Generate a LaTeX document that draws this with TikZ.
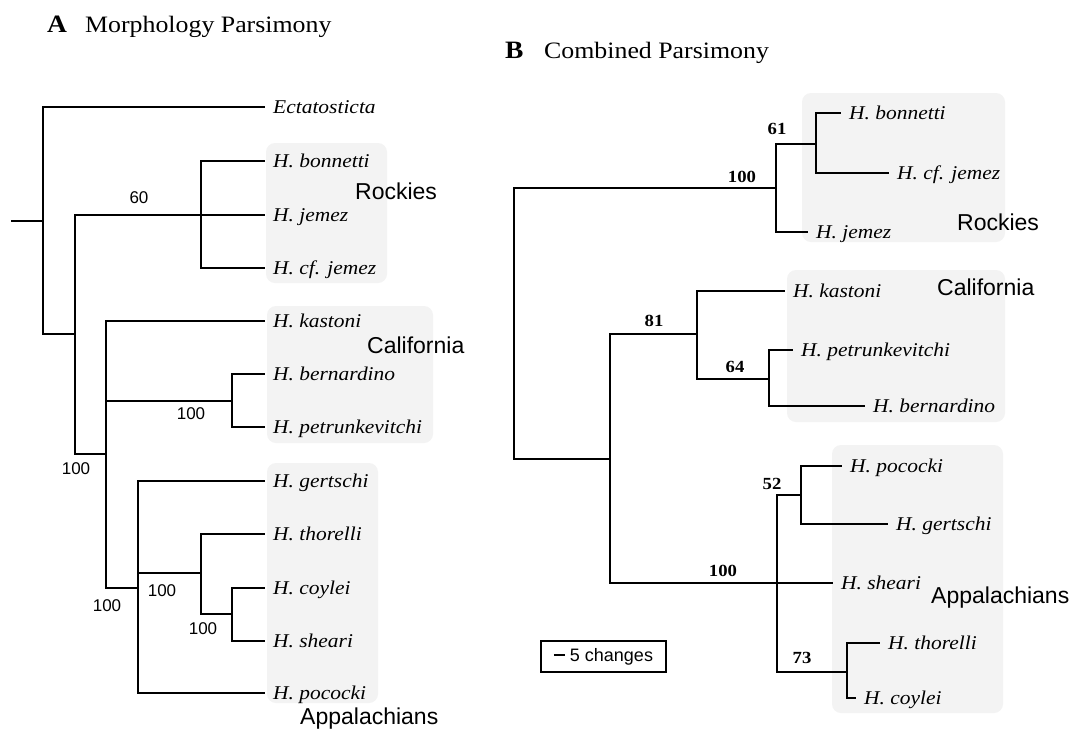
\documentclass[tikz,border=0pt]{standalone}
\usepackage{fontspec}
\newfontfamily\lsans{Liberation Sans}
\newfontfamily\serifw[FakeStretch=1.1]{Liberation Serif}
\definecolor{regionfill}{gray}{0.953}
\begin{document}
\begin{tikzpicture}[x=1pt,y=-1pt,
 branch/.style={line width=2.5pt, line join=miter},
 leaf/.style={anchor=west, xshift=8pt, inner sep=0pt, text height=14pt, text depth=2pt, font=\serifw\itshape\fontsize{19.5}{21}\selectfont},
 boot/.style={inner sep=0pt, font=\lsans\fontsize{17}{19}\selectfont},
 bootb/.style={inner sep=0pt, font=\serifw\bfseries\fontsize{17}{19}\selectfont},
 grp/.style={anchor=base west, inner sep=0pt, font=\lsans\fontsize{23}{25}\selectfont},
 region/.style={fill=regionfill, rounded corners=9pt},
 ttl/.style={anchor=base west, inner sep=0pt, font=\serifw\fontsize{23.5}{26}\selectfont},
 ttlb/.style={anchor=base west, inner sep=0pt, font=\serifw\bfseries\fontsize{25}{28}\selectfont}]
\fill[white] (0,0) rectangle (1074,729);
\useasboundingbox (0,0) rectangle (1074,729);

% ---------- shaded regions ----------
\fill[region] (266,143) rectangle (387,283);
\fill[region] (267,306) rectangle (433,443);
\fill[region] (267,463) rectangle (378,703);
\fill[region] (802,93) rectangle (1005,242);
\fill[region] (787,270) rectangle (1005,422);
\fill[region] (832,445) rectangle (1003,713);

% ---------- titles ----------
\node[ttlb] (tA) at (47,32) {A};
\node[ttl] (tAt) at (85,32) {Morphology Parsimony};
\node[ttlb] (tB) at (505,58) {B};
\node[ttl] (tBt) at (544,58) {Combined Parsimony};

% ---------- panel A ----------
\coordinate (a0) at (11,221);
\coordinate (aR) at (43,221);
\coordinate (a1) at (75,334);
\coordinate (a2) at (201,215);
\coordinate (a3) at (106,454);
\coordinate (a4) at (232,401);
\coordinate (a5) at (138,588);
\coordinate (a6) at (201,573);
\coordinate (a7) at (232,614);

\coordinate (aEct) at (265,107); \node[leaf] (aEctT) at (aEct) {Ectatosticta};
\coordinate (aBon) at (265,161); \node[leaf] (aBonT) at (aBon) {H. bonnetti};
\coordinate (aJem) at (265,215); \node[leaf] (aJemT) at (aJem) {H. jemez};
\coordinate (aCfj) at (265,268); \node[leaf] (aCfjT) at (aCfj) {H. cf. jemez};
\coordinate (aKas) at (265,321); \node[leaf] (aKasT) at (aKas) {H. kastoni};
\coordinate (aBer) at (265,374); \node[leaf] (aBerT) at (aBer) {H. bernardino};
\coordinate (aPet) at (265,427); \node[leaf] (aPetT) at (aPet) {H. petrunkevitchi};
\coordinate (aGer) at (265,481); \node[leaf] (aGerT) at (aGer) {H. gertschi};
\coordinate (aTho) at (265,534); \node[leaf] (aThoT) at (aTho) {H. thorelli};
\coordinate (aCoy) at (265,588); \node[leaf] (aCoyT) at (aCoy) {H. coylei};
\coordinate (aShe) at (265,641); \node[leaf] (aSheT) at (aShe) {H. sheari};
\coordinate (aPoc) at (265,693); \node[leaf] (aPocT) at (aPoc) {H. pococki};

\draw[branch] (a0) -- (aR);
\draw[branch] (aR) |- (aEct);
\draw[branch] (aR) |- (a1);
\draw[branch] (a1) |- (a2);
\draw[branch] (a1) |- (a3);
\draw[branch] (a2) |- (aBon);
\draw[branch] (a2) -- (aJem);
\draw[branch] (a2) |- (aCfj);
\draw[branch] (a3) |- (aKas);
\draw[branch] (a3) |- (a4);
\draw[branch] (a3) |- (a5);
\draw[branch] (a4) |- (aBer);
\draw[branch] (a4) |- (aPet);
\draw[branch] (a5) |- (aGer);
\draw[branch] (a5) |- (a6);
\draw[branch] (a5) |- (aPoc);
\draw[branch] (a6) |- (aTho);
\draw[branch] (a6) |- (a7);
\draw[branch] (a7) |- (aCoy);
\draw[branch] (a7) |- (aShe);

\node[boot] (aS1) at (139,198) {60};
\node[boot] (aS2) at (76,469) {100};
\node[boot] (aS3) at (191,414) {100};
\node[boot] (aS4) at (107,606) {100};
\node[boot] (aS5) at (162,591) {100};
\node[boot] (aS6) at (203,629) {100};

\node[grp] (aG1) at (355,199) {Rockies};
\node[grp] (aG2) at (367,353) {California};
\node[grp] (aG3) at (300,724) {Appalachians};

% ---------- panel B ----------
\coordinate (bR) at (514,323);
\coordinate (b1) at (776,188);
\coordinate (b3) at (816,144);
\coordinate (b2) at (610,459);
\coordinate (b4) at (697,334);
\coordinate (b6) at (769,379);
\coordinate (b5) at (777,583);
\coordinate (b7) at (801,495);
\coordinate (b8) at (847,672);

\coordinate (bBon) at (841,113); \node[leaf] (bBonT) at (bBon) {H. bonnetti};
\coordinate (bCfj) at (889,173); \node[leaf] (bCfjT) at (bCfj) {H. cf. jemez};
\coordinate (bJem) at (808,232); \node[leaf] (bJemT) at (bJem) {H. jemez};
\coordinate (bKas) at (785,291); \node[leaf] (bKasT) at (bKas) {H. kastoni};
\coordinate (bPet) at (793,350); \node[leaf] (bPetT) at (bPet) {H. petrunkevitchi};
\coordinate (bBer) at (865,406); \node[leaf] (bBerT) at (bBer) {H. bernardino};
\coordinate (bPoc) at (842,466); \node[leaf] (bPocT) at (bPoc) {H. pococki};
\coordinate (bGer) at (888,524); \node[leaf] (bGerT) at (bGer) {H. gertschi};
\coordinate (bShe) at (833,583); \node[leaf] (bSheT) at (bShe) {H. sheari};
\coordinate (bTho) at (880,643); \node[leaf] (bThoT) at (bTho) {H. thorelli};
\coordinate (bCoy) at (856,698); \node[leaf] (bCoyT) at (bCoy) {H. coylei};

\draw[branch] (bR) |- (b1);
\draw[branch] (bR) |- (b2);
\draw[branch] (b1) |- (b3);
\draw[branch] (b1) |- (bJem);
\draw[branch] (b3) |- (bBon);
\draw[branch] (b3) |- (bCfj);
\draw[branch] (b2) |- (b4);
\draw[branch] (b2) |- (b5);
\draw[branch] (b4) |- (bKas);
\draw[branch] (b4) |- (b6);
\draw[branch] (b6) |- (bPet);
\draw[branch] (b6) |- (bBer);
\draw[branch] (b5) |- (b7);
\draw[branch] (b5) -- (bShe);
\draw[branch] (b5) |- (b8);
\draw[branch] (b7) |- (bPoc);
\draw[branch] (b7) |- (bGer);
\draw[branch] (b8) |- (bTho);
\draw[branch] (b8) |- (bCoy);

\node[bootb] (bS1) at (742,177) {100};
\node[bootb] (bS2) at (777,129) {61};
\node[bootb] (bS3) at (654,321) {81};
\node[bootb] (bS4) at (735,367) {64};
\node[bootb] (bS5) at (723,571) {100};
\node[bootb] (bS6) at (772,484) {52};
\node[bootb] (bS7) at (802,658) {73};

\node[grp] (bG1) at (957,230) {Rockies};
\node[grp] (bG2) at (937,295) {California};
\node[grp] (bG3) at (931,603) {Appalachians};

% ---------- scale ----------
\node[draw, line width=1.2pt, minimum width=125pt, minimum height=31pt, inner sep=0pt,
      font=\lsans\fontsize{18}{20}\selectfont] (scale) at (603.5,656.5)
  {\rule[5.5pt]{11pt}{2pt}\hspace{5pt}5 changes};
\end{tikzpicture}
\end{document}
